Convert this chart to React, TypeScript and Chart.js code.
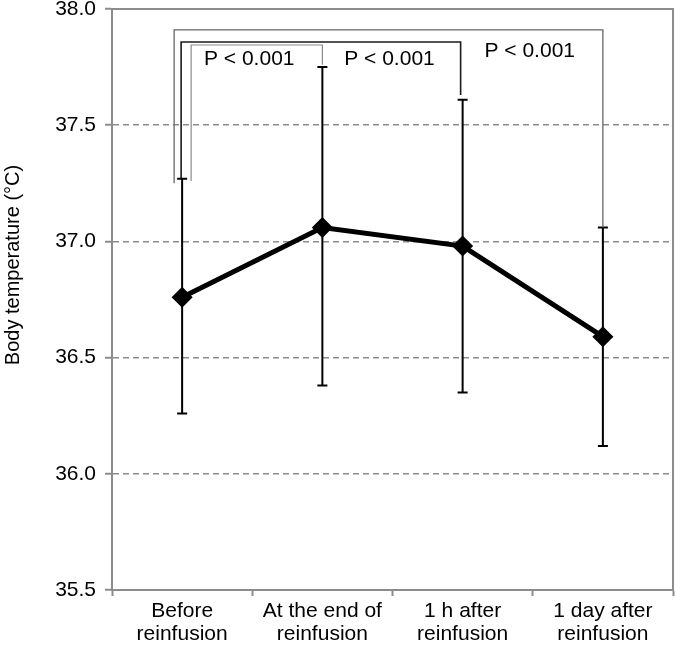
import React, { useEffect, useRef } from "react";
import { Chart, registerables } from "chart.js";

Chart.register(...registerables);

// ---- data ----
const categories: string[][] = [
  ["Before", "reinfusion"],
  ["At the end of", "reinfusion"],
  ["1 h after", "reinfusion"],
  ["1 day after", "reinfusion"],
];
const meanTemp = [36.76, 37.06, 36.98, 36.59];
const errUpper = [37.27, 37.75, 37.61, 37.06];
const errLower = [36.26, 36.38, 36.35, 36.12];
const yTicks = [35.5, 36.0, 36.5, 37.0, 37.5, 38.0];
const yTitle = "Body temperature (\u00B0C)";

// significance brackets: from category, to category, top level, end levels, label
const bracketFrom = [0, 0, 0];
const bracketTo = [1, 2, 3];
const bracketTop = [37.845, 37.858, 37.91];
const bracketLeftEnd = [37.26, 37.27, 37.25];
const bracketRightEnd = [37.76, 37.63, 37.06];
const bracketLabels = ["P < 0.001", "P < 0.001", "P < 0.001"];
const bracketLabelY = [37.785, 37.785, 37.82];

const FONT = 'Arial, "Liberation Sans", Helvetica, sans-serif';
const AXIS_GRAY = "#8c8c8c";

export default function App() {
  const ref = useRef<HTMLCanvasElement | null>(null);

  useEffect(() => {
    if (!ref.current) return;

    const framePlugin = {
      id: "frame",
      beforeDatasetsDraw(chart: any) {
        const { ctx, chartArea, scales } = chart;
        const x = scales.x;
        const y = scales.y;
        // top and right frame
        ctx.save();
        ctx.strokeStyle = AXIS_GRAY;
        ctx.lineWidth = 2;
        ctx.beginPath();
        ctx.moveTo(chartArea.left, chartArea.top);
        ctx.lineTo(chartArea.right, chartArea.top);
        ctx.lineTo(chartArea.right, chartArea.bottom);
        ctx.stroke();
        ctx.restore();

        // error bars
        ctx.save();
        ctx.strokeStyle = "#000";
        ctx.lineWidth = 2;
        for (let i = 0; i < meanTemp.length; i++) {
          const px = x.getPixelForValue(i);
          const yt = y.getPixelForValue(errUpper[i]);
          const yb = y.getPixelForValue(errLower[i]);
          ctx.beginPath();
          ctx.moveTo(px, yt);
          ctx.lineTo(px, yb);
          ctx.moveTo(px - 5, yt);
          ctx.lineTo(px + 5, yt);
          ctx.moveTo(px - 5, yb);
          ctx.lineTo(px + 5, yb);
          ctx.stroke();
        }
        ctx.restore();

        // brackets
        const dxLeft = [9, -1, -8];
        const dxRight = [0, -2, 0];
        const colors = ["#8a8a8a", "#1a1a1a", "#666"];
        const widths = [1.2, 1.6, 1.3];
        ctx.save();
        for (let b = 0; b < bracketFrom.length; b++) {
          const xl = x.getPixelForValue(bracketFrom[b]) + dxLeft[b];
          const xr = x.getPixelForValue(bracketTo[b]) + dxRight[b];
          const yt = y.getPixelForValue(bracketTop[b]);
          ctx.strokeStyle = colors[b];
          ctx.lineWidth = widths[b];
          ctx.beginPath();
          ctx.moveTo(xl, y.getPixelForValue(bracketLeftEnd[b]));
          ctx.lineTo(xl, yt);
          ctx.lineTo(xr, yt);
          ctx.lineTo(xr, y.getPixelForValue(bracketRightEnd[b]));
          ctx.stroke();
        }
        ctx.fillStyle = "#000";
        ctx.font = `21px ${FONT}`;
        ctx.textAlign = "center";
        ctx.textBaseline = "middle";
        for (let b = 0; b < bracketFrom.length; b++) {
          const lx =
            (x.getPixelForValue(bracketTo[b]) + x.getPixelForValue(bracketTo[b] - 1)) / 2 - 3;
          ctx.fillText(bracketLabels[b], lx, y.getPixelForValue(bracketLabelY[b]));
        }
        ctx.restore();

        // y axis title
        ctx.save();
        ctx.fillStyle = "#000";
        ctx.font = `20px ${FONT}`;
        ctx.textAlign = "center";
        ctx.textBaseline = "middle";
        ctx.translate(13, 265);
        ctx.rotate(-Math.PI / 2);
        ctx.fillText(yTitle, 0, 0);
        ctx.restore();
      },
    };

    const chart = new Chart(ref.current, {
      type: "line",
      data: {
        labels: categories as any,
        datasets: [
          {
            data: meanTemp,
            borderColor: "#000",
            backgroundColor: "#000",
            borderWidth: 5,
            pointStyle: "rectRot",
            pointRadius: 7,
            pointBackgroundColor: "#000",
            pointBorderColor: "#000",
            tension: 0,
            clip: false as any,
          },
        ],
      },
      options: {
        animation: false,
        responsive: false,
        events: [],
        layout: { autoPadding: false, padding: { top: 9, right: 2, left: 0, bottom: 0 } },
        plugins: {
          legend: { display: false },
          tooltip: { enabled: false },
        },
        scales: {
          x: {
            type: "category",
            offset: true,
            grid: {
              offset: true,
              drawOnChartArea: false,
              drawTicks: true,
              tickLength: 6,
              tickColor: AXIS_GRAY,
              tickWidth: 2,
            },
            border: { display: true, color: AXIS_GRAY, width: 2 },
            ticks: {
              color: "#000",
              font: { family: FONT, size: 21, lineHeight: 1.12 },
              padding: 3,
              maxRotation: 0,
              autoSkip: false,
            },
            afterFit(scale: any) {
              scale.height = 58;
              scale.paddingLeft = 0;
              scale.paddingRight = 0;
            },
          },
          y: {
            type: "linear",
            min: 35.5,
            max: 38.0,
            afterBuildTicks(scale: any) {
              scale.ticks = yTicks.map((v) => ({ value: v }));
            },
            grid: {
              color: (c: any) =>
                c.tick && (c.tick.value === 38 || c.tick.value === 35.5)
                  ? "rgba(0,0,0,0)"
                  : AXIS_GRAY,
              lineWidth: 1.5,
              tickLength: 7,
              tickColor: AXIS_GRAY,
              tickWidth: 2,
              tickBorderDash: [],
            },
            border: { display: true, color: AXIS_GRAY, width: 2, dash: [6, 4] },
            ticks: {
              color: "#000",
              font: { family: FONT, size: 21 },
              padding: 9,
              callback: (v: any) => Number(v).toFixed(1),
            },
            afterFit(scale: any) {
              scale.width = 112;
              scale.paddingTop = 0;
              scale.paddingBottom = 0;
            },
          },
        },
      },
      plugins: [framePlugin],
    });

    return () => chart.destroy();
  }, []);

  return (
    <div style={{ position: "absolute", left: 0, top: 0, width: 675, height: 648, background: "#fff" }}>
      <canvas ref={ref} width={675} height={648} style={{ display: "block" }} />
    </div>
  );
}
